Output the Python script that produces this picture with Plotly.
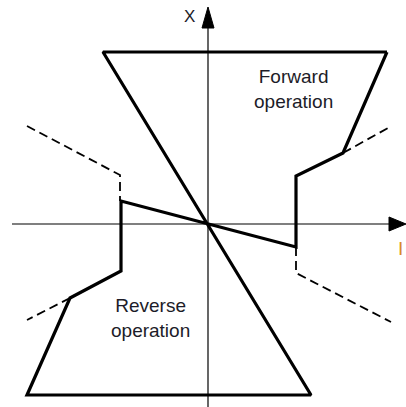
import plotly.graph_objects as go

# Operating-region boundary (solid), in axis units with the origin at the axis crossing
boundary_i = [179, 135, 88, 88, -87, -87, -138, -181, 103, -105, 179]
boundary_x = [172, 71, 48, -23, 23, -47, -74, -171, -171, 172, 172]

# Dashed extension lines
ext_ul_i = [-181, -88, -88]
ext_ul_x = [98, 49, 23]
ext_ur_i = [135, 180]
ext_ur_x = [71, 96]
ext_lr_i = [88, 88, 183]
ext_lr_x = [-23, -49, -98]
ext_ll_i = [-138, -181]
ext_ll_x = [-74, -96]

# Axes and arrowheads
vaxis_i = [0, 0]
vaxis_x = [-183, 200]
haxis_i = [-196, 184]
haxis_x = [0, 0]
varrow_i = [-6, 6, 0, -6]
varrow_x = [196, 196, 217, 196]
harrow_i = [181, 181, 198, 181]
harrow_x = [7, -7, 0, 7]

fig = go.Figure()

fig.add_trace(go.Scatter(x=vaxis_i, y=vaxis_x, mode="lines",
                         line=dict(color="black", width=1.2), hoverinfo="skip"))
fig.add_trace(go.Scatter(x=haxis_i, y=haxis_x, mode="lines",
                         line=dict(color="black", width=1.2), hoverinfo="skip"))
for ai, ax in [(varrow_i, varrow_x), (harrow_i, harrow_x)]:
    fig.add_trace(go.Scatter(x=ai, y=ax, mode="lines", fill="toself",
                             fillcolor="black", line=dict(color="black", width=1),
                             hoverinfo="skip"))

for ei, ex in [(ext_ul_i, ext_ul_x), (ext_ur_i, ext_ur_x),
               (ext_lr_i, ext_lr_x), (ext_ll_i, ext_ll_x)]:
    fig.add_trace(go.Scatter(x=ei, y=ex, mode="lines",
                             line=dict(color="black", width=1.8, dash="9px,5px"),
                             hoverinfo="skip"))

fig.add_trace(go.Scatter(x=boundary_i, y=boundary_x, mode="lines",
                         line=dict(color="black", width=3.2), hoverinfo="skip"))

text_color = "#1c1c28"
font = dict(family="Arial, Liberation Sans, sans-serif", size=19, color=text_color)

fig.add_annotation(x=85, y=135, text="Forward<br>operation", showarrow=False,
                   font=font, align="center")
fig.add_annotation(x=-58, y=-94, text="Reverse<br>operation", showarrow=False,
                   font=font, align="center")
fig.add_annotation(x=-19, y=208, text="X", showarrow=False,
                   font=dict(family="Arial, Liberation Sans, sans-serif", size=17,
                             color=text_color))
fig.add_annotation(x=197, y=-24, text="I", showarrow=False, xanchor="right",
                   font=dict(family="Arial, Liberation Sans, sans-serif", size=19,
                             color="#d98a2a"))

fig.update_layout(
    width=406, height=407,
    margin=dict(l=0, r=0, t=0, b=0),
    paper_bgcolor="white", plot_bgcolor="white",
    showlegend=False,
    xaxis=dict(range=[-208, 198], visible=False, fixedrange=True),
    yaxis=dict(range=[-183, 224], visible=False, fixedrange=True),
)

fig.write_html("out.html", config={"displayModeBar": False})
